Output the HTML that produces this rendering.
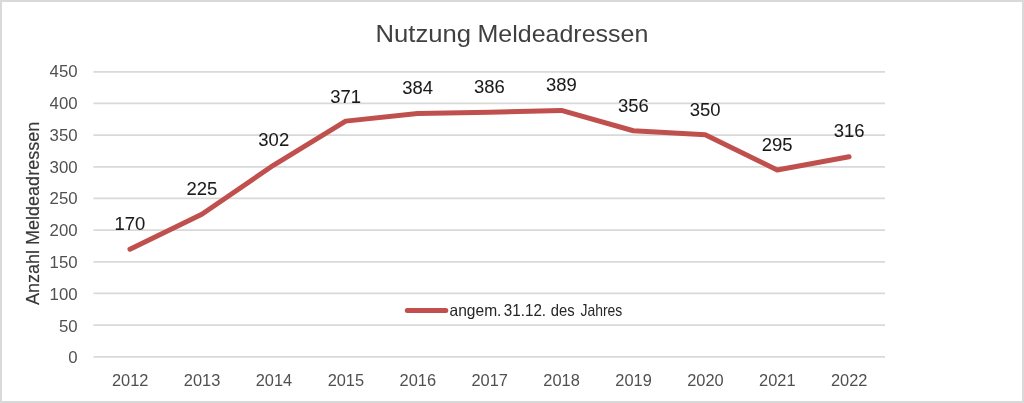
<!DOCTYPE html>
<html><head><meta charset="utf-8"><style>
html,body{margin:0;padding:0;background:#fff;}
body{width:1024px;height:403px;overflow:hidden;position:relative;}
.frame{position:absolute;left:0;top:0;width:1020px;height:399px;border:2px solid #d9d9d9;background:#fff;}
svg{position:absolute;left:0;top:0;will-change:transform;}
text{font-family:"Liberation Sans",sans-serif;}
.ax{font-size:16.8px;fill:#505050;}
.dl{font-size:17.5px;fill:#1a1a1a;stroke:#1a1a1a;stroke-width:0.05px;}
.title{font-size:24px;fill:#404040;}
.yt{font-size:18.3px;fill:#383838;stroke:#383838;stroke-width:0.2px;}
.lg{font-size:16.5px;fill:#262626;}
</style></head><body>
<div class="frame"></div>
<svg width="1024" height="403" viewBox="0 0 1024 403">
<line x1="93.5" y1="356.80" x2="885" y2="356.80" stroke="#d9d9d9" stroke-width="1.7"/>
<line x1="93.5" y1="325.13" x2="885" y2="325.13" stroke="#d9d9d9" stroke-width="1.7"/>
<line x1="93.5" y1="293.47" x2="885" y2="293.47" stroke="#d9d9d9" stroke-width="1.7"/>
<line x1="93.5" y1="261.80" x2="885" y2="261.80" stroke="#d9d9d9" stroke-width="1.7"/>
<line x1="93.5" y1="230.13" x2="885" y2="230.13" stroke="#d9d9d9" stroke-width="1.7"/>
<line x1="93.5" y1="198.47" x2="885" y2="198.47" stroke="#d9d9d9" stroke-width="1.7"/>
<line x1="93.5" y1="166.80" x2="885" y2="166.80" stroke="#d9d9d9" stroke-width="1.7"/>
<line x1="93.5" y1="135.13" x2="885" y2="135.13" stroke="#d9d9d9" stroke-width="1.7"/>
<line x1="93.5" y1="103.47" x2="885" y2="103.47" stroke="#d9d9d9" stroke-width="1.7"/>
<line x1="93.5" y1="71.80" x2="885" y2="71.80" stroke="#d9d9d9" stroke-width="1.7"/>
<text x="77.6" y="363.35" text-anchor="end" class="ax">0</text>
<text x="77.6" y="331.55" text-anchor="end" class="ax">50</text>
<text x="77.6" y="299.75" text-anchor="end" class="ax">100</text>
<text x="77.6" y="267.95" text-anchor="end" class="ax">150</text>
<text x="77.6" y="236.15" text-anchor="end" class="ax">200</text>
<text x="77.6" y="204.35" text-anchor="end" class="ax">250</text>
<text x="77.6" y="172.55" text-anchor="end" class="ax">300</text>
<text x="77.6" y="140.75" text-anchor="end" class="ax">350</text>
<text x="77.6" y="108.95" text-anchor="end" class="ax">400</text>
<text x="77.6" y="77.15" text-anchor="end" class="ax">450</text>
<text x="130.15" y="386" text-anchor="middle" class="ax" textLength="36.5" lengthAdjust="spacingAndGlyphs">2012</text>
<text x="202.06" y="386" text-anchor="middle" class="ax" textLength="36.5" lengthAdjust="spacingAndGlyphs">2013</text>
<text x="273.97" y="386" text-anchor="middle" class="ax" textLength="36.5" lengthAdjust="spacingAndGlyphs">2014</text>
<text x="345.88" y="386" text-anchor="middle" class="ax" textLength="36.5" lengthAdjust="spacingAndGlyphs">2015</text>
<text x="417.79" y="386" text-anchor="middle" class="ax" textLength="36.5" lengthAdjust="spacingAndGlyphs">2016</text>
<text x="489.70" y="386" text-anchor="middle" class="ax" textLength="36.5" lengthAdjust="spacingAndGlyphs">2017</text>
<text x="561.61" y="386" text-anchor="middle" class="ax" textLength="36.5" lengthAdjust="spacingAndGlyphs">2018</text>
<text x="633.52" y="386" text-anchor="middle" class="ax" textLength="36.5" lengthAdjust="spacingAndGlyphs">2019</text>
<text x="705.43" y="386" text-anchor="middle" class="ax" textLength="36.5" lengthAdjust="spacingAndGlyphs">2020</text>
<text x="777.34" y="386" text-anchor="middle" class="ax" textLength="36.5" lengthAdjust="spacingAndGlyphs">2021</text>
<text x="849.25" y="386" text-anchor="middle" class="ax" textLength="36.5" lengthAdjust="spacingAndGlyphs">2022</text>
<polyline points="129.95,249.13 201.86,214.30 273.77,165.03 345.68,121.13 417.59,113.60 489.50,112.33 561.41,110.43 633.32,130.73 705.23,134.73 777.14,169.97 849.05,156.67" fill="none" stroke="#c0504d" stroke-width="5.0" stroke-linejoin="round" stroke-linecap="round"/>
<text x="129.95" y="229.93" text-anchor="middle" class="dl" textLength="30.8" lengthAdjust="spacingAndGlyphs">170</text>
<text x="201.86" y="195.10" text-anchor="middle" class="dl" textLength="30.8" lengthAdjust="spacingAndGlyphs">225</text>
<text x="273.77" y="146.33" text-anchor="middle" class="dl" textLength="30.8" lengthAdjust="spacingAndGlyphs">302</text>
<text x="345.68" y="102.63" text-anchor="middle" class="dl" textLength="30.8" lengthAdjust="spacingAndGlyphs">371</text>
<text x="417.59" y="94.40" text-anchor="middle" class="dl" textLength="30.8" lengthAdjust="spacingAndGlyphs">384</text>
<text x="489.50" y="93.13" text-anchor="middle" class="dl" textLength="30.8" lengthAdjust="spacingAndGlyphs">386</text>
<text x="561.41" y="91.23" text-anchor="middle" class="dl" textLength="30.8" lengthAdjust="spacingAndGlyphs">389</text>
<text x="633.32" y="112.13" text-anchor="middle" class="dl" textLength="30.8" lengthAdjust="spacingAndGlyphs">356</text>
<text x="705.23" y="115.93" text-anchor="middle" class="dl" textLength="30.8" lengthAdjust="spacingAndGlyphs">350</text>
<text x="777.14" y="150.77" text-anchor="middle" class="dl" textLength="30.8" lengthAdjust="spacingAndGlyphs">295</text>
<text x="849.05" y="137.47" text-anchor="middle" class="dl" textLength="30.8" lengthAdjust="spacingAndGlyphs">316</text>
<text x="375.59" y="42" class="title" textLength="95.46" lengthAdjust="spacingAndGlyphs">Nutzung</text>
<text x="477.46" y="42" class="title" textLength="170.91" lengthAdjust="spacingAndGlyphs">Meldeadressen</text>
<text transform="translate(38.8,305) rotate(-90)" x="0" y="0" class="yt" textLength="183.2" lengthAdjust="spacingAndGlyphs">Anzahl Meldeadressen</text>
<line x1="407.3" y1="310.5" x2="445.8" y2="310.5" stroke="#c0504d" stroke-width="5.0" stroke-linecap="round"/>
<text x="449.54" y="315.7" class="lg" textLength="51.9" lengthAdjust="spacingAndGlyphs">angem.</text>
<text x="503.87" y="315.7" class="lg" textLength="42.23" lengthAdjust="spacingAndGlyphs">31.12.</text>
<text x="550.71" y="315.7" class="lg" textLength="23.85" lengthAdjust="spacingAndGlyphs">des</text>
<text x="580.43" y="315.7" class="lg" textLength="41.83" lengthAdjust="spacingAndGlyphs">Jahres</text>
</svg>
</body></html>
